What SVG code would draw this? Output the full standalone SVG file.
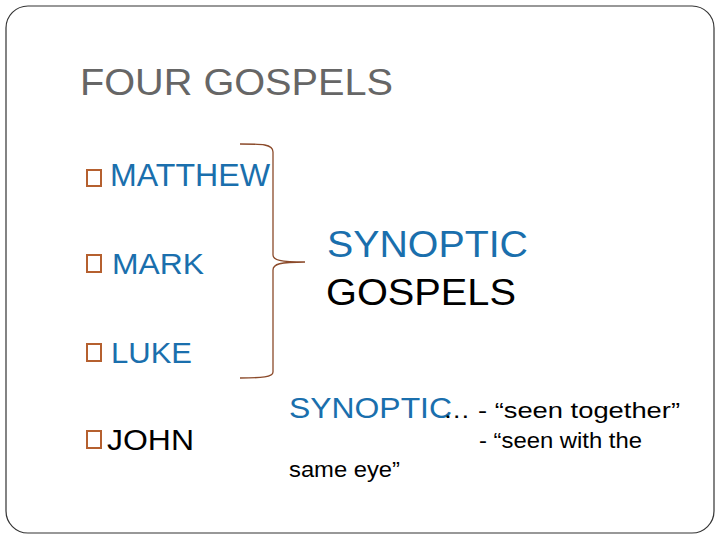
<svg xmlns="http://www.w3.org/2000/svg" width="720" height="540" viewBox="0 0 720 540">
<style>
text{font-family:"Liberation Sans",Arial,sans-serif}
.b{fill:#1a6fad}
.k{fill:#000}
.bul{fill:none;stroke:#b5602f;stroke-width:2}
.s{font-size:22px}
</style>
<rect x="0" y="0" width="720" height="540" fill="#fff"/>
<rect x="6" y="6" width="708" height="527" rx="22" fill="none" stroke="#333" stroke-width="1.2"/>
<text x="80" y="95" font-size="37" fill="#666" textLength="313" lengthAdjust="spacingAndGlyphs">FOUR GOSPELS</text>
<g id="matthew"><rect class="bul" x="87" y="170" width="14" height="16"/><text class="b" x="110" y="186" font-size="31" textLength="160" lengthAdjust="spacingAndGlyphs">MATTHEW</text></g>
<g id="mark"><rect class="bul" x="87" y="255" width="14" height="17"/><text class="b" x="112" y="274" font-size="29" textLength="92" lengthAdjust="spacingAndGlyphs">MARK</text></g>
<g id="luke"><rect class="bul" x="87" y="344" width="14" height="17"/><text class="b" x="111" y="363" font-size="29" textLength="81" lengthAdjust="spacingAndGlyphs">LUKE</text></g>
<g id="john"><rect class="bul" x="87" y="431" width="14" height="17"/><text class="k" x="107" y="450" font-size="29" textLength="87" lengthAdjust="spacingAndGlyphs">JOHN</text></g>
<g id="connectors"><path d="M240 144 C262 144 273 144 273 152 L273 255 C273 260 280 262 305 262 C280 262 273 264 273 270 L273 372 C273 377 262 378 240 378" fill="none" stroke="#8b4a2a" stroke-width="1.3"/></g>
<g id="synoptic"><text class="b" x="327" y="257" font-size="37" textLength="201" lengthAdjust="spacingAndGlyphs">SYNOPTIC</text><text class="k" x="326" y="305" font-size="37" textLength="190" lengthAdjust="spacingAndGlyphs">GOSPELS</text></g>
<g id="definition">
<text class="b" x="289" y="418" font-size="29" textLength="163" lengthAdjust="spacingAndGlyphs">SYNOPTIC</text>
<text class="k s" x="443" y="418" textLength="237" lengthAdjust="spacingAndGlyphs">… - “seen together”</text>
<text class="k s" x="479" y="448" textLength="163" lengthAdjust="spacingAndGlyphs">- “seen with the</text>
<text class="k s" x="289" y="477" textLength="111" lengthAdjust="spacingAndGlyphs">same eye”</text>
</g>
</svg>
